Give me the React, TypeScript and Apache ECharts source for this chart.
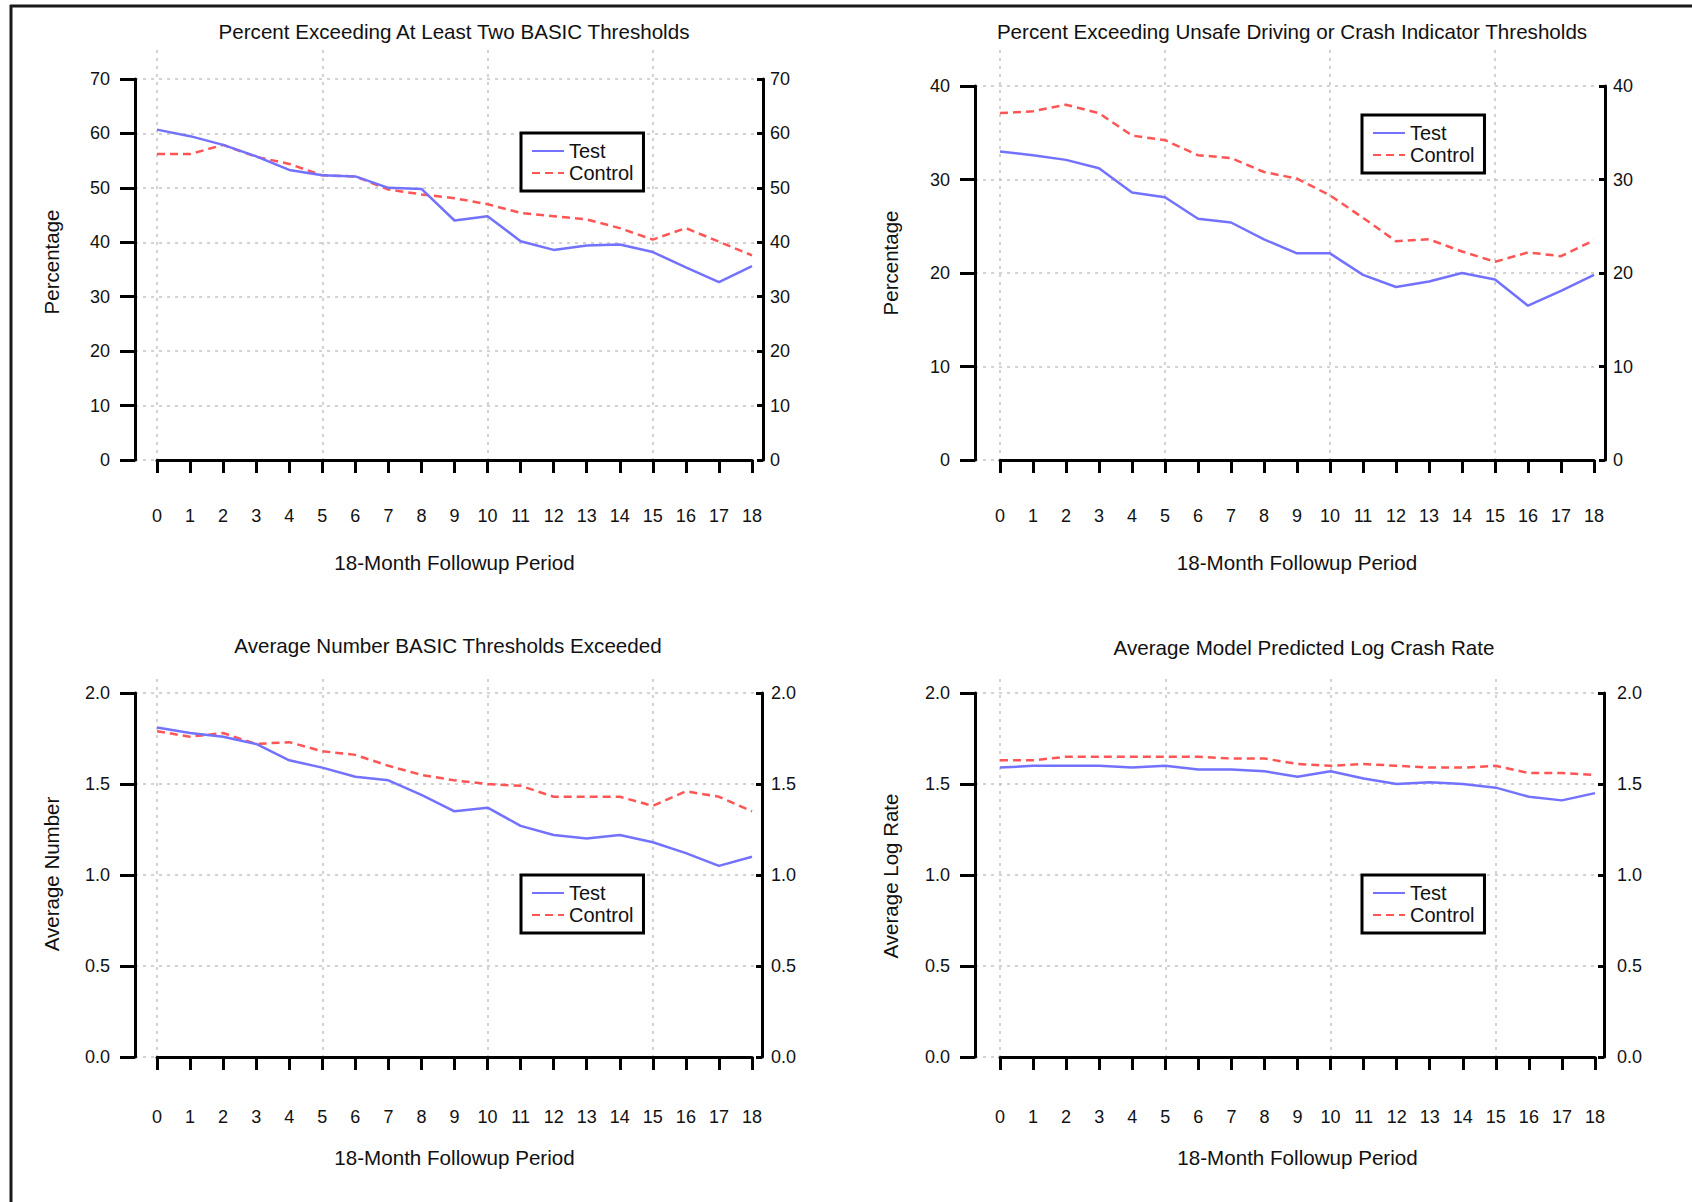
import React, { useEffect, useRef } from "react";
import * as echarts from "echarts";

const periods = ["0","1","2","3","4","5","6","7","8","9","10","11","12","13","14","15","16","17","18"];

const p1Test = [60.7, 59.5, 57.9, 55.8, 53.3, 52.3, 52.1, 50.0, 49.8, 44.0, 44.8, 40.2, 38.6, 39.4, 39.6, 38.2, 35.4, 32.7, 35.6];
const p1Control = [56.2, 56.2, 57.9, 55.7, 54.4, 52.3, 52.1, 49.7, 48.8, 48.1, 47.0, 45.4, 44.8, 44.2, 42.6, 40.5, 42.6, 40.1, 37.6];
const p2Test = [33.0, 32.6, 32.1, 31.2, 28.6, 28.1, 25.8, 25.4, 23.6, 22.1, 22.1, 19.8, 18.5, 19.1, 20.0, 19.3, 16.5, 18.1, 19.8];
const p2Control = [37.1, 37.3, 38.0, 37.1, 34.7, 34.2, 32.6, 32.3, 30.8, 30.1, 28.3, 25.9, 23.4, 23.6, 22.3, 21.2, 22.2, 21.8, 23.5];
const p3Test = [1.81, 1.78, 1.76, 1.72, 1.63, 1.59, 1.54, 1.52, 1.44, 1.35, 1.37, 1.27, 1.22, 1.20, 1.22, 1.18, 1.12, 1.05, 1.10];
const p3Control = [1.79, 1.76, 1.78, 1.72, 1.73, 1.68, 1.66, 1.60, 1.55, 1.52, 1.50, 1.49, 1.43, 1.43, 1.43, 1.38, 1.46, 1.43, 1.35];
const p4Test = [1.59, 1.60, 1.60, 1.60, 1.59, 1.60, 1.58, 1.58, 1.57, 1.54, 1.57, 1.53, 1.50, 1.51, 1.50, 1.48, 1.43, 1.41, 1.45];
const p4Control = [1.63, 1.63, 1.65, 1.65, 1.65, 1.65, 1.65, 1.64, 1.64, 1.61, 1.60, 1.61, 1.60, 1.59, 1.59, 1.60, 1.56, 1.56, 1.55];

const titles = [
  "Percent Exceeding At Least Two BASIC Thresholds",
  "Percent Exceeding Unsafe Driving or Crash Indicator Thresholds",
  "Average Number BASIC Thresholds Exceeded",
  "Average Model Predicted Log Crash Rate",
];
const yNames = ["Percentage", "Percentage", "Average Number", "Average Log Rate"];
const xName = "18-Month Followup Period";
const seriesNames = ["Test", "Control"];

const FONT = "'Liberation Sans', Arial, sans-serif";
const TEXT = "#111";
const GRIDLINE = "#c4c4c4";
const BLUE = "#7272ff";
const RED = "#ff5555";

type Panel = {
  test: number[]; control: number[]; yMax: number; yInt: number; dec: number;
  L: number; R: number; x0: number; x18: number; top: number; bottom: number; offset: number;
  vTop: number; vBot: number; legL: number; legT: number; rMargin: number;
  titleX: number; titleY: number; yNameX: number; yNameY: number; xNameY: number; xLabelMargin: number;
};

const panels: Panel[] = [
  { test: p1Test, control: p1Control, yMax: 70, yInt: 10, dec: 0,
    L: 135, R: 763, x0: 157, x18: 752, top: 79, bottom: 460, offset: 14, vTop: 50, vBot: 472,
    legL: 521, legT: 133, rMargin: 7, titleX: 454, titleY: 31, yNameX: 51, yNameY: 262, xNameY: 562, xLabelMargin: 33 },
  { test: p2Test, control: p2Control, yMax: 40, yInt: 10, dec: 0,
    L: 975, R: 1605, x0: 1000, x18: 1594, top: 86, bottom: 460, offset: 14, vTop: 50, vBot: 472,
    legL: 1362, legT: 115, rMargin: 8, titleX: 1292, titleY: 31, yNameX: 890, yNameY: 263, xNameY: 562, xLabelMargin: 33 },
  { test: p3Test, control: p3Control, yMax: 2, yInt: 0.5, dec: 1,
    L: 135, R: 762, x0: 157, x18: 752, top: 693, bottom: 1057, offset: 15, vTop: 679, vBot: 1065,
    legL: 521, legT: 875, rMargin: 9, titleX: 448, titleY: 645, yNameX: 51, yNameY: 874, xNameY: 1157, xLabelMargin: 36 },
  { test: p4Test, control: p4Control, yMax: 2, yInt: 0.5, dec: 1,
    L: 975, R: 1604, x0: 1000, x18: 1595, top: 693, bottom: 1057, offset: 15, vTop: 679, vBot: 1065,
    legL: 1362, legT: 875, rMargin: 13, titleX: 1304, titleY: 647, yNameX: 890, yNameY: 876, xNameY: 1157, xLabelMargin: 36 },
];

function buildOption() {
  const grid: any[] = [];
  const xAxis: any[] = [];
  const yAxis: any[] = [];
  const series: any[] = [];
  const legend: any[] = [];
  const graphic: any[] = [];

  panels.forEach((p, k) => {
    const gA = grid.length;
    grid.push({ left: p.L, top: p.top, width: p.R - p.L, height: p.bottom - p.top });
    const gB = grid.length;
    grid.push({ left: p.x0, top: p.top, width: p.x18 - p.x0, height: p.bottom - p.top });
    const gC = grid.length;
    grid.push({ left: p.x0, top: p.vTop, width: p.x18 - p.x0, height: p.vBot - p.vTop });

    const fmt = (v: number) => v.toFixed(p.dec);

    // Grid A: y axes + horizontal grid
    xAxis.push({ type: "value", gridIndex: gA, show: false, min: 0, max: 1 });
    yAxis.push({
      type: "value", gridIndex: gA, min: 0, max: p.yMax, interval: p.yInt, position: "left",
      axisLine: { show: true, lineStyle: { color: "#000", width: 3 } },
      axisTick: { show: true, inside: false, length: 15, lineStyle: { color: "#000", width: 3 } },
      axisLabel: { fontSize: 18, color: TEXT, margin: 25, fontFamily: FONT, formatter: fmt },
      splitLine: { show: true, lineStyle: { type: [3, 5], color: GRIDLINE, width: 1.5 } },
    });
    yAxis.push({
      type: "value", gridIndex: gA, min: 0, max: p.yMax, interval: p.yInt, position: "right",
      axisLine: { show: true, lineStyle: { color: "#000", width: 3 } },
      axisTick: { show: true, inside: true, length: 6, lineStyle: { color: "#000", width: 3 } },
      axisLabel: { fontSize: 18, color: TEXT, margin: p.rMargin, fontFamily: FONT, formatter: fmt },
      splitLine: { show: false },
    });

    // Grid B: x axis (offset) + series
    const xB = xAxis.length;
    xAxis.push({
      type: "category", gridIndex: gB, data: periods, boundaryGap: false, offset: p.offset,
      axisLine: { show: true, lineStyle: { color: "#000", width: 3 } },
      axisTick: { show: true, length: 13, interval: 0, lineStyle: { color: "#000", width: 3 } },
      axisLabel: { fontSize: 18, color: TEXT, margin: p.xLabelMargin, interval: 0, fontFamily: FONT },
      splitLine: { show: false },
    });
    const yB = yAxis.length;
    yAxis.push({ type: "value", gridIndex: gB, min: 0, max: p.yMax, show: false });

    // Grid C: vertical dotted grid at 0, 5, 10, 15
    xAxis.push({
      type: "category", gridIndex: gC, data: periods, boundaryGap: false,
      axisLine: { show: false }, axisTick: { show: false }, axisLabel: { show: false },
      splitLine: {
        show: true,
        interval: (i: number) => i % 5 === 0 && i < 18,
        lineStyle: { type: [3, 5], color: GRIDLINE, width: 1.5 },
      },
    });
    yAxis.push({ type: "value", gridIndex: gC, min: 0, max: 1, show: false });

    series.push({
      type: "line", name: seriesNames[0], xAxisIndex: xB, yAxisIndex: yB, data: p.test,
      symbol: "none", lineStyle: { color: BLUE, width: 2.5 }, itemStyle: { color: BLUE }, z: 3,
    });
    series.push({
      type: "line", name: seriesNames[1], xAxisIndex: xB, yAxisIndex: yB, data: p.control,
      symbol: "none", lineStyle: { color: RED, width: 2.5, type: [8, 5] }, itemStyle: { color: RED }, z: 2,
    });

    legend.push({
      left: p.legL, top: p.legT, orient: "vertical", data: seriesNames, selectedMode: false,
      borderColor: "#000", borderWidth: 3, borderRadius: 0, backgroundColor: "#fff",
      padding: [8, 10, 8, 10], itemWidth: 32, itemHeight: 12, itemGap: 2,
      itemStyle: { opacity: 0 },
      textStyle: { fontSize: 20, color: TEXT, fontFamily: FONT, lineHeight: 19 },
    });

    graphic.push({
      type: "text", x: p.titleX, y: p.titleY,
      style: { text: titles[k], fontSize: 20.6, fill: TEXT, fontFamily: FONT, align: "center", verticalAlign: "middle" },
    });
    graphic.push({
      type: "text", x: p.yNameX, y: p.yNameY, rotation: Math.PI / 2,
      style: { text: yNames[k], fontSize: 20.5, fill: TEXT, fontFamily: FONT, align: "center", verticalAlign: "middle" },
    });
    graphic.push({
      type: "text", x: (p.x0 + p.x18) / 2, y: p.xNameY,
      style: { text: xName, fontSize: 20.6, fill: TEXT, fontFamily: FONT, align: "center", verticalAlign: "middle" },
    });
  });

  graphic.push({ type: "line", shape: { x1: 10, y1: 6, x2: 1692, y2: 6 }, style: { stroke: "#1a1a1a", lineWidth: 3 } });
  graphic.push({ type: "line", shape: { x1: 11, y1: 5, x2: 11, y2: 1202 }, style: { stroke: "#1a1a1a", lineWidth: 3 } });

  return {
    animation: false,
    backgroundColor: "#fff",
    textStyle: { fontFamily: FONT },
    grid, xAxis, yAxis, series, legend, graphic,
  };
}

export default function App() {
  const ref = useRef<HTMLDivElement>(null);
  useEffect(() => {
    if (!ref.current) return;
    const chart = echarts.init(ref.current, undefined, { renderer: "svg" });
    chart.setOption(buildOption() as any);
    return () => chart.dispose();
  }, []);
  return (
    <div
      ref={ref}
      style={{ position: "absolute", left: 0, top: 0, width: 1692, height: 1202, background: "#fff" }}
    />
  );
}
